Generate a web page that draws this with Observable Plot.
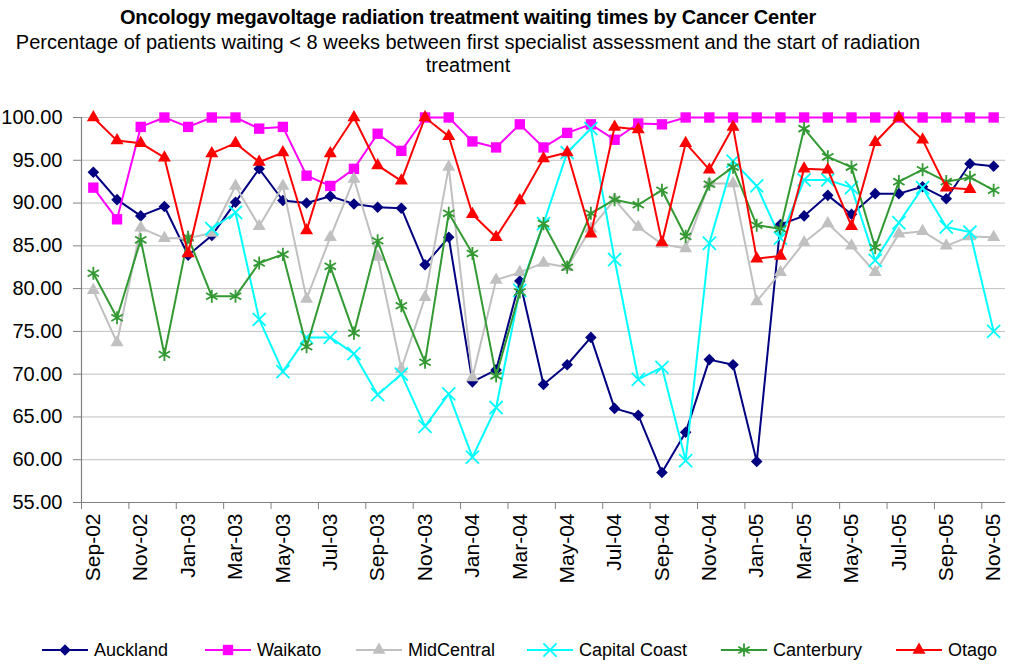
<!DOCTYPE html>
<html><head><meta charset="utf-8">
<script src="https://cdn.jsdelivr.net/npm/d3@7"></script>
<script src="https://cdn.jsdelivr.net/npm/@observablehq/plot@0.6"></script>
<style>
body{margin:0;background:#fff;font-family:"Liberation Sans",Arial,sans-serif;}
#wrap{position:relative;width:1012px;height:667px;overflow:hidden;background:#fff}
.t{position:absolute;left:0;width:936px;text-align:center;white-space:nowrap;color:#000}
.clip{position:absolute;left:0;top:0;width:931px;height:60px;overflow:hidden}
.lg{position:absolute;top:638px;height:24px;display:flex;align-items:center;font-size:18px;white-space:nowrap}
.lg svg{margin-right:4px}
</style></head><body><div id="wrap">
<div class="t" style="top:6px;font-size:20px;font-weight:bold;letter-spacing:-0.2px">Oncology megavoltage radiation treatment waiting times by Cancer Center</div>
<div class="clip"><div class="t" style="top:31px;font-size:20px">Percentage of patients waiting &lt; 8 weeks between first specialist assessment and the start of radiation</div></div>
<div class="t" style="top:54px;font-size:20px">treatment</div>
<div id="chart" style="position:absolute;left:0;top:95px"></div>
<div id="legend"></div>
</div>
<script>
const months = ["Sep-02","Oct-02","Nov-02","Dec-02","Jan-03","Feb-03","Mar-03","Apr-03","May-03","Jun-03","Jul-03","Aug-03",
  "Sep-03","Oct-03","Nov-03","Dec-03","Jan-04","Feb-04","Mar-04","Apr-04","May-04","Jun-04","Jul-04","Aug-04",
  "Sep-04","Oct-04","Nov-04","Dec-04","Jan-05","Feb-05","Mar-05","Apr-05","May-05","Jun-05","Jul-05","Aug-05",
  "Sep-05","Oct-05","Nov-05"];
const yTicks = [55,60,65,70,75,80,85,90,95,100];

const auckland = [93.6,90.4,88.5,89.6,83.9,86.2,90.1,94.0,90.3,90.0,90.8,89.9,89.5,89.4,82.8,86.0,69.1,70.5,80.9,68.8,71.1,74.3,66.0,65.2,58.5,63.2,71.7,71.1,59.8,87.5,88.5,90.9,88.7,91.1,91.1,91.9,90.5,94.6,94.3];
const waikato = [91.8,88.1,98.9,100,98.9,100,100,98.7,98.9,93.2,92.0,94.0,98.1,96.1,100,100,97.2,96.5,99.2,96.5,98.2,99.2,97.4,99.3,99.2,100,100,100,100,100,100,100,100,100,100,100,100,100,100];
const midCentral = [79.8,73.7,87.1,85.9,85.9,86.5,92.0,87.3,92.0,78.8,86.0,92.8,83.7,70.6,79.0,94.2,69.6,81.0,81.9,83.0,82.5,87.0,90.4,87.2,85.2,84.7,92.3,92.3,78.5,81.9,85.4,87.6,85.0,81.9,86.4,86.7,85.0,86.1,86.0];
const capitalCoast = [null,null,null,null,null,87.0,88.9,76.4,70.3,74.3,74.3,72.4,67.6,70.0,63.9,67.7,60.3,66.1,79.8,87.6,95.9,98.7,83.4,69.4,70.8,59.9,85.3,94.9,92.0,85.9,92.7,92.7,91.8,83.3,87.7,91.8,87.2,86.6,75.0];
const canterbury = [81.8,76.6,85.7,72.3,86.0,79.1,79.1,83.0,84.0,73.2,82.6,74.8,85.6,78.0,71.4,88.8,84.1,69.8,79.6,87.6,82.5,88.8,90.4,89.8,91.5,86.1,92.2,94.2,87.4,87.0,98.7,95.4,94.2,84.8,92.5,93.9,92.5,93.0,91.5];
const otago = [100,97.3,97.0,95.3,84.1,95.8,97.0,94.8,95.9,86.8,95.8,100,94.4,92.6,100,97.8,88.7,86.0,90.3,95.2,95.9,86.4,98.9,98.6,85.4,97.0,93.9,98.9,83.5,83.8,94.0,93.9,87.3,97.1,100,97.4,91.8,91.6,null];

const seriesNames = ["Auckland","Waikato","MidCentral","Capital Coast","Canterbury","Otago"];
const seriesValues = [auckland, waikato, midCentral, capitalCoast, canterbury, otago];
const seriesColors = ["#000080","#ff00ff","#c0c0c0","#00ffff","#339933","#ff0000"];
const seriesSymbols = ["diamond2","square2","triangle2","times","asterisk","triangle2"];
const seriesFilled = [true,true,true,false,false,true];
const seriesR = [5.2,6.6,6.2,6.0,6.2,6.2];

const axisColor = "#808080";
const marks = [
  Plot.ruleY(yTicks.filter(v => v > 55), {stroke:"#c0c0c0", strokeWidth:1}),
  Plot.axisY({ticks: yTicks, tickSize: 8, tickPadding: 11, tickFormat: d => d.toFixed(2), fontSize: 20, label: null, stroke: axisColor}),
  Plot.axisX({ticks: d3.range(-0.5, 38, 2), tickSize: 7, tickFormat: () => "", label: null, stroke: axisColor}),
  Plot.axisX({ticks: d3.range(0, 39, 2), tickSize: 0, tickPadding: 11, tickRotate: -90, tickFormat: i => months[i], fontSize: 21, label: null}),
  Plot.ruleX([-0.5], {stroke: axisColor, strokeWidth: 1.2}),
  Plot.ruleY([55], {stroke: axisColor, strokeWidth: 1.2})
];
seriesValues.forEach((vals, s) => {
  const data = vals.map((v, i) => ({i, v}));
  marks.push(Plot.line(data, {x: "i", y: "v", stroke: seriesColors[s], strokeWidth: 2}));
  const dotOpts = {x: "i", y: "v", symbol: seriesSymbols[s], r: seriesR[s]};
  if (seriesFilled[s]) { dotOpts.fill = seriesColors[s]; dotOpts.stroke = "none"; }
  else { dotOpts.fill = "none"; dotOpts.stroke = seriesColors[s]; dotOpts.strokeWidth = 1.8; }
  marks.push(Plot.dot(data.filter(d => d.v != null), dotOpts));
});

const chart = Plot.plot({
  width: 1012, height: 505,
  marginLeft: 81, marginRight: 7, marginTop: 22, marginBottom: 98,
  style: {fontFamily: "Liberation Sans, Arial, sans-serif", background: "white", color: "#000", overflow: "visible"},
  x: {type: "linear", domain: [-0.5, 38.5]},
  y: {domain: [55, 100]},
  marks
});
document.getElementById("chart").appendChild(chart);

// legend
const legendLeft = [42, 205, 356, 527, 721, 896];
const symMap = {diamond2: d3.symbolDiamond2, square2: d3.symbolSquare2, triangle2: d3.symbolTriangle2, times: d3.symbolTimes, asterisk: d3.symbolAsterisk};
const leg = document.getElementById("legend");
seriesNames.forEach((name, s) => {
  const item = document.createElement("div");
  item.className = "lg";
  item.style.left = legendLeft[s] + "px";
  const path = d3.symbol(symMap[seriesSymbols[s]], Math.PI * seriesR[s] * seriesR[s])();
  const fill = seriesFilled[s] ? seriesColors[s] : "none";
  const stroke = seriesFilled[s] ? "none" : seriesColors[s];
  item.innerHTML = `<svg width="48" height="24"><line x1="0" x2="46" y1="12" y2="12" stroke="${seriesColors[s]}" stroke-width="2"/><path transform="translate(23,12)" d="${path}" fill="${fill}" stroke="${stroke}" stroke-width="1.8"/></svg><span>${name}</span>`;
  leg.appendChild(item);
});
</script>
</body></html>
